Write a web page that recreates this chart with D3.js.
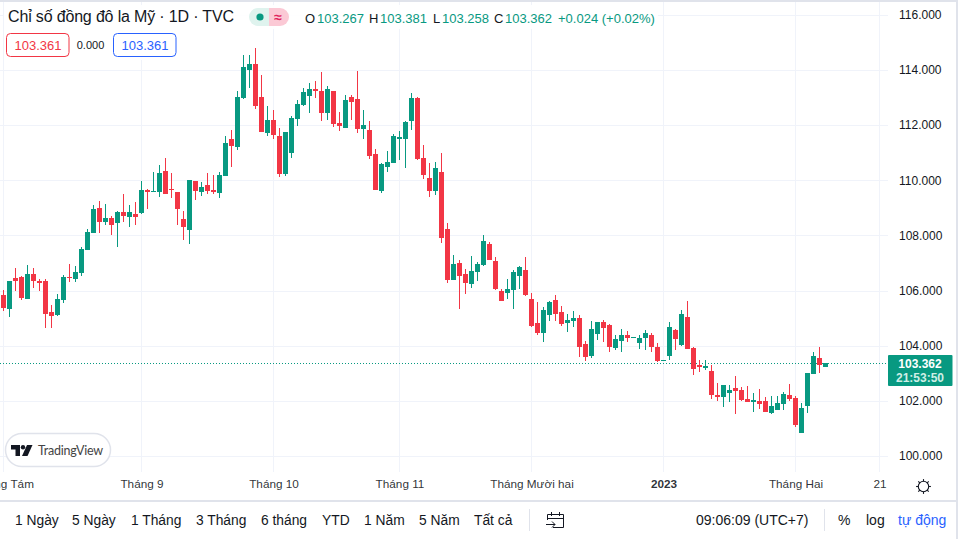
<!DOCTYPE html>
<html><head><meta charset="utf-8">
<script src="https://cdn.jsdelivr.net/npm/d3@7/dist/d3.min.js"></script>
<style>html,body{margin:0;padding:0;background:#fff;overflow:hidden}svg{display:block;font-family:"Liberation Sans",Arial,sans-serif}</style>
</head><body><svg id="c" width="958" height="539"></svg>
<script>
const opens=[105.855,105.359,106.472,106.509,105.71,106.618,106.364,106.364,105.237,105.129,105.673,106.509,106.436,106.654,107.49,108.107,109.015,108.507,108.652,108.47,108.87,108.688,108.797,108.834,109.669,109.596,109.596,110.359,109.705,109.596,108.616,108.216,109.996,109.596,109.851,109.669,109.56,110.178,111.522,111.231,113.011,114.028,114.246,113.048,111.74,112.212,111.631,110.251,111.013,112.248,112.757,113.084,113.338,113.265,112.466,113.265,112.103,111.921,113.048,112.975,111.885,111.849,110.977,109.633,110.505,110.65,111.522,111.522,112.176,113.011,110.832,110.105,109.633,110.324,108.253,106.401,107.018,106.619,106.255,106.691,106.946,107.708,107.091,106.001,105.928,106.037,106.546,106.764,105.71,104.839,104.475,105.129,105.674,105.238,104.839,104.911,105.02,104.076,103.64,104.439,104.875,104.766,103.931,104.185,104.403,104.294,104.112,104.294,104.403,103.967,103.458,103.64,104.584,104.039,105.056,103.93,103.313,103.204,103.095,102.223,102.15,102.296,102.477,102.405,102.078,101.969,102.005,102.005,101.569,101.678,101.896,102.223,102.114,100.843,101.823,102.986,103.567,103.24];
const highs=[106.037,106.364,106.836,106.545,106.945,106.836,106.436,106.436,105.492,105.891,106.582,106.981,106.908,107.599,108.252,109.124,109.269,109.161,108.725,108.906,109.524,109.124,109.233,109.996,109.705,110.323,110.577,110.831,110.287,109.596,108.906,110.032,109.996,109.96,110.287,110.214,110.323,111.631,111.849,113.266,114.573,114.573,114.827,113.847,112.721,112.575,111.921,111.776,112.357,112.939,113.374,113.556,113.629,113.956,113.447,113.265,112.503,113.12,113.12,113.992,112.575,112.176,111.159,110.65,111.086,111.704,111.813,112.176,113.193,113.048,111.304,110.65,110.686,111.014,108.471,107.309,107.127,106.8,107.272,107.054,108.035,107.781,107.236,106.074,106.437,106.764,106.909,107.236,105.928,105.601,105.42,105.638,105.856,105.456,105.166,105.275,105.129,104.185,104.911,104.875,104.948,104.802,104.403,104.621,104.548,104.33,104.403,104.584,104.475,104.112,103.494,104.875,104.62,105.311,105.637,103.967,103.494,103.494,103.313,102.659,102.586,102.586,102.913,102.514,102.55,102.296,102.441,102.15,102.187,102.187,102.332,102.623,102.187,101.932,103.022,103.785,103.967,103.381];
const lows=[105.286,105.068,106.0,105.673,105.71,106.109,106.0,104.656,104.656,105.092,105.564,106.327,106.327,106.545,107.49,108.107,108.107,108.398,108.034,107.599,108.507,108.325,108.398,108.797,108.979,109.596,109.415,109.524,109.378,108.398,107.853,107.708,109.306,109.451,109.524,109.524,109.378,110.178,110.505,111.122,112.975,113.374,112.612,111.776,111.631,111.522,110.142,110.178,110.832,111.994,112.721,112.466,113.011,112.176,112.212,111.958,111.813,111.921,112.212,111.74,111.522,110.795,109.669,109.56,110.323,110.65,110.759,110.468,111.849,110.759,110.069,109.415,109.488,107.745,106.292,106.401,105.347,105.892,106.11,106.364,106.909,107.127,106.037,105.638,105.71,105.347,106.074,105.819,104.693,104.403,104.149,104.911,104.911,104.73,104.512,104.693,103.604,103.458,103.567,104.221,104.149,103.785,103.858,103.785,104.149,104.294,103.894,103.858,103.785,103.422,103.458,103.494,103.858,104.003,103.894,102.949,103.058,103.131,102.078,102.005,101.787,101.969,101.533,102.005,101.969,101.605,101.714,101.605,101.533,101.678,101.678,102.005,101.061,100.843,101.569,102.986,103.022,103.258];
const closes=[105.395,106.364,106.364,105.746,106.618,106.364,106.291,105.165,105.092,105.71,106.509,106.472,106.69,107.526,108.143,108.979,108.507,108.652,108.398,108.87,108.725,108.87,108.688,109.669,109.596,109.633,110.287,109.524,109.669,108.979,108.325,110.032,109.633,109.778,109.633,109.596,110.214,111.377,111.268,113.048,114.137,114.246,112.721,111.776,112.212,111.667,110.251,111.776,112.285,112.793,113.229,113.338,113.266,112.466,113.338,112.067,111.994,112.939,112.866,111.885,112.03,110.904,109.669,110.614,110.686,111.631,111.595,112.139,113.011,110.795,110.214,109.633,110.468,107.926,106.401,106.982,106.546,106.292,106.728,106.982,107.817,107.127,106.074,105.638,106.074,106.691,106.873,105.856,104.73,104.475,105.311,105.601,105.166,104.802,104.948,105.02,103.967,103.604,104.621,104.875,104.657,103.967,104.258,104.403,104.294,104.33,104.294,104.475,103.967,103.458,103.494,104.693,104.257,105.165,103.894,103.167,103.24,103.276,102.223,102.15,102.586,102.405,102.368,102.041,101.969,102.041,101.896,101.605,101.823,101.932,102.259,102.078,101.133,101.751,103.022,103.64,103.313,103.385];

const priceTicks=[100,102,104,106,108,110,112,114,116];
const timeIndex=[0,23,45,66,88,110,132,146];
const timeLabels=["Tháng Tám","Tháng 9","Tháng 10","Tháng 11","Tháng Mười hai","2023","Tháng Hai","21"];
const lastPrice=103.362;
const countdown="21:53:50";
const title="Chỉ số đồng đô la Mỹ · 1D · TVC";
const ohlcLabels=["O","H","L","C"];
const ohlcValues=["103.267","103.381","103.258","103.362"];
const ohlcChange="+0.024 (+0.02%)";
const ranges=["1 Ngày","5 Ngày","1 Tháng","3 Tháng","6 tháng","YTD","1 Năm","5 Năm","Tất cả"];

const UP="#089981",DOWN="#f23645",GRID="#f0f3fa",TXT="#131722",LINE="#e0e3eb";
const svg=d3.select("#c");
const x=d3.scaleLinear().domain([0,146]).range([3.5,879.5]);
const y=d3.scaleLinear().domain([100,116]).range([456.2,15.7]);
const snap=v=>Math.floor(v)+0.5;

const plot=svg.append("g");
// grid
plot.append("g").selectAll("line").data(priceTicks).join("line")
 .attr("x1",0).attr("x2",888).attr("y1",d=>snap(y(d))).attr("y2",d=>snap(y(d))).attr("stroke",GRID);
plot.append("g").selectAll("line").data(timeIndex).join("line")
 .attr("x1",d=>x(d)).attr("x2",d=>x(d)).attr("y1",2).attr("y2",472).attr("stroke",GRID);

// last price line
plot.append("line").attr("x1",0).attr("x2",888).attr("y1",snap(y(lastPrice))).attr("y2",snap(y(lastPrice)))
 .attr("stroke",UP).attr("stroke-dasharray","1 2");

// candles
const rows=closes.map((c,i)=>({i,o:opens[i],h:highs[i],l:lows[i],c}));
const col=d=>d.c>=d.o?UP:DOWN;
const cg=plot.append("g").attr("shape-rendering","crispEdges");
cg.selectAll("rect.w").data(rows.filter(d=>d.i<137)).join("rect").attr("class","w")
 .attr("x",d=>x(d.i)-0.5).attr("width",1)
 .attr("y",d=>Math.round(y(d.h))).attr("height",d=>Math.max(1,Math.round(y(d.l))-Math.round(y(d.h))))
 .attr("fill",col);
cg.selectAll("rect.b").data(rows).join("rect").attr("class","b")
 .attr("x",d=>x(d.i)-2.5).attr("width",5)
 .attr("y",d=>Math.round(y(Math.max(d.o,d.c))))
 .attr("height",d=>Math.max(1,Math.round(y(Math.min(d.o,d.c)))-Math.round(y(Math.max(d.o,d.c)))))
 .attr("fill",col);

// legend backdrop
svg.append("rect").attr("x",4).attr("y",5).attr("width",654).attr("height",24).attr("fill","#fff").attr("fill-opacity",.9);
svg.append("rect").attr("x",4).attr("y",29).attr("width",174).attr("height",31).attr("fill","#fff").attr("fill-opacity",.9);

// frame
svg.append("rect").attr("x",0).attr("y",0).attr("width",958).attr("height",2).attr("fill",LINE);
svg.append("rect").attr("x",956).attr("y",0).attr("width",2).attr("height",539).attr("fill",LINE);
svg.append("rect").attr("x",0).attr("y",500).attr("width",956).attr("height",2).attr("fill",LINE);

// price axis
const ya=svg.append("g").attr("transform","translate(888,-1.2)")
 .call(d3.axisRight(y).tickValues(priceTicks).tickSize(0).tickPadding(11).tickFormat(d3.format(".3f")));
ya.select(".domain").remove();
ya.selectAll("text").attr("font-size",12).attr("font-family",null).attr("fill",TXT).attr("dy","0.36em");

// last price label
svg.append("rect").attr("x",888).attr("y",355).attr("width",64.5).attr("height",31).attr("rx",1).attr("fill",UP);
svg.append("text").attr("x",920).attr("y",368).attr("text-anchor","middle").attr("font-size",12).attr("font-weight",700).attr("fill","#fff").text(d3.format(".3f")(lastPrice));
svg.append("text").attr("x",920).attr("y",382).attr("text-anchor","middle").attr("font-size",12).attr("font-weight",700).attr("fill","#cfeee6").text(countdown);

// time axis
const xa=svg.append("g").attr("transform","translate(0,473)")
 .call(d3.axisBottom(x).tickValues(timeIndex).tickSize(0).tickPadding(7).tickFormat((d,i)=>timeLabels[i]));
xa.select(".domain").remove();
xa.selectAll("text").attr("font-size",11.75).attr("font-family",null).attr("fill",TXT).attr("fill-opacity",.9)
 .attr("font-weight",d=>d===110?700:400);

// title + OHLC
svg.append("text").attr("x",8).attr("y",22).attr("font-size",16).attr("fill",TXT).attr("textLength",226).text(title);
const pill=svg.append("g");
pill.append("path").attr("d","M269 8H258a9 9 0 0 0 0 18H269Z").attr("fill","#dff3ee");
pill.append("path").attr("d","M269 8H280a9 9 0 0 1 0 18H269Z").attr("fill","#fbc9d5");
pill.append("circle").attr("cx",260).attr("cy",17).attr("r",3.6).attr("fill",UP);
pill.append("text").attr("x",278).attr("y",21.5).attr("text-anchor","middle").attr("font-size",14).attr("font-weight",700).attr("fill","#e0245e").text("≈");
const labelX=[305,369,433,494],valueX=[317,380,442,505];
ohlcLabels.forEach((l,i)=>{
 svg.append("text").attr("x",labelX[i]).attr("y",22.5).attr("font-size",13).attr("fill",TXT).text(l);
 svg.append("text").attr("x",valueX[i]).attr("y",22.5).attr("font-size",13).attr("fill",UP).text(ohlcValues[i]);
});
svg.append("text").attr("x",558).attr("y",22.5).attr("font-size",13).attr("fill",UP).text(ohlcChange);

// input boxes
[[6,DOWN],[113,"#2962ff"]].forEach(([bx,c])=>{
 svg.append("rect").attr("x",bx+.5).attr("y",33.5).attr("width",62.5).attr("height",23).attr("rx",4).attr("fill","#fff").attr("stroke",c);
 svg.append("text").attr("x",bx+32).attr("y",50).attr("text-anchor","middle").attr("font-size",13).attr("fill",c).text("103.361");
});
svg.append("text").attr("x",90.5).attr("y",49).attr("text-anchor","middle").attr("font-size",11).attr("fill",TXT).text("0.000");

// TradingView badge
svg.append("rect").attr("x",5.5).attr("y",433.5).attr("width",105).attr("height",33).attr("rx",16.5).attr("fill","#fff").attr("stroke",LINE).attr("stroke-width",1.5);
const lg=svg.append("g").attr("fill","#131722");
lg.append("path").attr("d","M11 445H20V456H15.5V449.5H11Z");
lg.append("circle").attr("cx",23).attr("cy",447.2).attr("r",2.2);
lg.append("path").attr("d","M27 445H32.5L27.5 456H22Z");
svg.append("text").attr("x",38).attr("y",454.5).attr("font-family","Lato, sans-serif").attr("font-size",12.5).attr("fill","#444").attr("textLength",65).text("TradingView");

// bottom toolbar
const rangeX=[15,72,131,196,261,322,364,419,474];
ranges.forEach((t,i)=>svg.append("text").attr("x",rangeX[i]).attr("y",525).attr("font-size",13.8).attr("fill",TXT).text(t));
svg.append("rect").attr("x",529).attr("y",509).attr("width",1).attr("height",22).attr("fill",LINE);
svg.append("rect").attr("x",824).attr("y",509).attr("width",1).attr("height",22).attr("fill",LINE);
const ic=svg.append("g").attr("fill","none").attr("stroke",TXT).attr("stroke-width",1);
ic.append("path").attr("d","M547.5 520V514.5H563.5V527.5H553M547.5 518.5H563.5M551.5 512V516M559.5 512V516M546 524.5H555M552 521.5L555 524.5L552 527.5");
svg.append("text").attr("x",696).attr("y",525).attr("font-size",14).attr("fill",TXT).text("09:06:09 (UTC+7)");
svg.append("text").attr("x",838).attr("y",525).attr("font-size",14).attr("fill",TXT).text("%");
svg.append("text").attr("x",866).attr("y",525).attr("font-size",14).attr("fill",TXT).text("log");
svg.append("text").attr("x",898).attr("y",525).attr("font-size",14).attr("fill","#2962ff").text("tự động");

// gear icon
const gear=svg.append("g").attr("transform","translate(923.5,486.5)").attr("fill","none").attr("stroke",TXT).attr("stroke-width",1.1);
gear.append("circle").attr("r",5.2);
d3.range(8).forEach(k=>gear.append("line").attr("y1",-5.2).attr("y2",-7.4).attr("transform",`rotate(${k*45})`));
</script></body></html>
